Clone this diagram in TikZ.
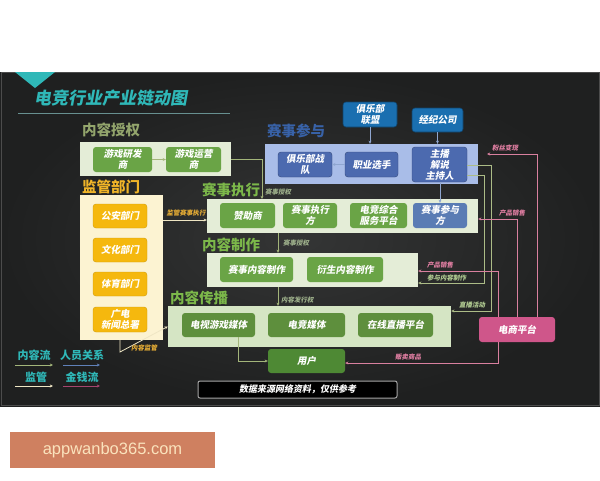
\documentclass[tikz,border=0pt]{standalone}
\usepackage{fontspec}
\usetikzlibrary{arrows.meta}
\setmainfont{Noto Sans CJK SC}
\newfontfamily\cjk{Noto Sans CJK SC}
\newfontfamily\cjksl{Noto Sans CJK SC}[FakeSlant=0.18]
\newfontfamily\wmfont{Liberation Sans}
\definecolor{panel}{HTML}{1F2020}
\definecolor{panelin}{HTML}{343535}
\definecolor{teal}{HTML}{2FB8B8}
\definecolor{lgreen}{HTML}{E4EDD7}
\definecolor{cbgreen}{HTML}{D5E5C4}
\definecolor{gbox}{HTML}{6AA446}
\definecolor{gboxd}{HTML}{5E8F3D}
\definecolor{user}{HTML}{4E8934}
\definecolor{lblue}{HTML}{A9BDE8}
\definecolor{bbox}{HTML}{4C6AAF}
\definecolor{bboxl}{HTML}{5A7CB4}
\definecolor{topblue}{HTML}{1A6FB0}
\definecolor{cream}{HTML}{FCF3D2}
\definecolor{ybox}{HTML}{F5B80E}
\definecolor{pinkbox}{HTML}{CF568A}
\definecolor{pinkline}{HTML}{D9809F}
\definecolor{pinktxt}{HTML}{E27FA3}
\definecolor{flowc}{HTML}{A3B57A}
\definecolor{flowtxt}{HTML}{9FB28C}
\definecolor{gflowtxt}{HTML}{B3CD93}
\definecolor{persc}{HTML}{8FA6D0}
\definecolor{regc}{HTML}{EFE6C4}
\definecolor{gold}{HTML}{E8AE35}
\definecolor{secolive}{HTML}{93A56C}
\definecolor{secgreen}{HTML}{7CB84A}
\definecolor{secblue}{HTML}{3862A8}
\definecolor{secyellow}{HTML}{F0B428}
\definecolor{wmfill}{HTML}{CF8060}
\definecolor{wmtext}{HTML}{FAE3BD}
\tikzset{
  container/.style={draw=none, inner sep=0pt},
  bx/.style={rounded corners=3pt, inner sep=0pt, align=center, text=white,
    font=\cjksl\bfseries\fontsize{9.5}{11}\selectfont},
  greenbx/.style={bx, fill=gbox},
  darkgreenbx/.style={bx, fill=gboxd},
  bluebx/.style={bx, fill=bbox, draw=bbox!70!black, line width=0.4pt},
  topbx/.style={bx, fill=topblue, draw=topblue!60!black, line width=0.6pt},
  yellowbx/.style={bx, fill=ybox, draw=ybox!85!black, line width=0.4pt},
  seclabel/.style={anchor=west, inner sep=0pt, font=\cjk\bfseries\fontsize{14.5}{16}\selectfont},
  small/.style={inner sep=0pt, font=\cjksl\bfseries\fontsize{6.5}{7}\selectfont},
  tip/.style={-{Stealth[length=3.2pt,width=3pt]}},
  flow/.style={tip, draw=flowc, line width=0.8pt},
  gflow/.style={tip, draw=flowc!90!white, line width=0.8pt},
  pers/.style={tip, draw=persc, line width=0.8pt},
  reg/.style={tip, draw=regc, line width=0.8pt},
  money/.style={tip, draw=pinkline, line width=0.8pt},
  legtxt/.style={inner sep=0pt, text=teal, font=\cjk\bfseries\fontsize{11}{12}\selectfont}
}
\begin{document}
\begin{tikzpicture}[x=1pt, y=-1pt]
\useasboundingbox (0,0) rectangle (600,480);
\fill[white] (0,0) rectangle (600,480);
% dark panel
\shade[inner color=panelin, outer color=panel] (0,72) rectangle (600,406);
\draw[black!70!white, line width=0.6pt] (1,72.5) rectangle (599,405.5);
\fill[teal] (15,72) -- (55,72) -- (35,88) -- cycle;
\node[anchor=west, inner sep=0pt, text=teal, font=\cjksl\bfseries\fontsize{17}{19}\selectfont] (title) at (34,98) {电竞行业产业链动图};
\draw[gray!70!teal, line width=0.7pt] (18,113) -- (230,113);

% section labels
\node[seclabel, text=secolive] (l1) at (82,130) {内容授权};
\node[seclabel, text=secblue] (l2) at (267,131) {赛事参与};
\node[seclabel, text=secyellow] (l3) at (82,187) {监管部门};
\node[seclabel, text=secgreen] (l4) at (202,190) {赛事执行};
\node[seclabel, text=secgreen] (l5) at (202,245) {内容制作};
\node[seclabel, text=secgreen] (l6) at (170,298) {内容传播};

% containers
\node[container, fill=lgreen, minimum width=151pt, minimum height=34pt] (sq) at (155.5,159) {};
\node[container, fill=lblue, minimum width=213pt, minimum height=40pt] (sc) at (371.5,164) {};
\node[container, fill=lgreen, minimum width=271pt, minimum height=34pt] (zx) at (342.5,216) {};
\node[container, fill=lgreen, minimum width=211pt, minimum height=34pt] (nz) at (312.5,270) {};
\node[container, fill=cbgreen, minimum width=283pt, minimum height=41pt] (cb) at (309.5,326.5) {};
\node[container, fill=cream, minimum width=83pt, minimum height=145pt] (jg) at (121.5,267.5) {};

% 内容授权
\node[greenbx, minimum width=59pt, minimum height=25pt] (yf) at (122.5,159.5) {游戏研发\\商};
\node[greenbx, minimum width=55pt, minimum height=25pt] (yy) at (193.5,159.5) {游戏运营\\商};

% 赛事参与
\node[bluebx, minimum width=54pt, minimum height=25pt] (jd) at (305,164.5) {俱乐部战\\队};
\node[bluebx, minimum width=53pt, minimum height=25pt] (zy) at (371.5,164.5) {职业选手};
\node[bluebx, minimum width=55pt, minimum height=35pt] (zb) at (439.5,164.5) {主播\\解说\\主持人};
\node[topbx, minimum width=54pt, minimum height=25pt] (jl) at (370,114.5) {俱乐部\\联盟};
\node[topbx, minimum width=51pt, minimum height=24pt] (jj) at (437.5,120) {经纪公司};

% 赛事执行
\node[greenbx, minimum width=55pt, minimum height=25pt] (zz) at (247.5,215.5) {赞助商};
\node[greenbx, minimum width=54pt, minimum height=25pt] (zxf) at (310,215.5) {赛事执行\\方};
\node[greenbx, minimum width=57pt, minimum height=25pt] (dj) at (378.5,215.5) {电竞综合\\服务平台};
\node[bx, fill=bboxl, minimum width=54pt, minimum height=25pt] (cyf) at (440,215.5) {赛事参与\\方};

% 内容制作
\node[greenbx, minimum width=73pt, minimum height=25pt] (ssnr) at (256.5,269.5) {赛事内容制作};
\node[greenbx, minimum width=76pt, minimum height=25pt] (ysnr) at (345,269.5) {衍生内容制作};

% 内容传播
\node[darkgreenbx, minimum width=73pt, minimum height=24pt] (ds) at (218.5,325) {电视游戏媒体};
\node[darkgreenbx, minimum width=77pt, minimum height=24pt] (djmt) at (306.5,325) {电竞媒体};
\node[darkgreenbx, minimum width=75pt, minimum height=24pt] (zbpt) at (395.5,325) {在线直播平台};
\node[bx, fill=user, minimum width=77pt, minimum height=24pt] (yh) at (306.5,361) {用户};

% 监管部门
\node[yellowbx, minimum width=54pt, minimum height=24pt] (ga) at (120,216) {公安部门};
\node[yellowbx, minimum width=54pt, minimum height=24pt] (wh) at (120,250) {文化部门};
\node[yellowbx, minimum width=54pt, minimum height=24pt] (ty) at (120,284) {体育部门};
\node[yellowbx, minimum width=54pt, minimum height=25pt] (gd) at (120,319.5) {广电\\新闻总署};

% 电商平台
\node[bx, fill=pinkbox, minimum width=76pt, minimum height=25pt] (dsp) at (517,329.5) {电商平台};

% banner
\node[rounded corners=2pt, fill=black, draw=gray!70, line width=1pt, minimum width=199pt, minimum height=17pt, inner sep=0pt, text=white, font=\cjksl\bfseries\fontsize{9}{10}\selectfont] (ban) at (297.5,389.5) {数据来源网络资料，仅供参考};

% coordinates
\coordinate (c262) at (262,199);
\coordinate (x278) at (278,0);
\coordinate (x238) at (238,0);
\coordinate (x120) at (120,0);
\coordinate (kmb) at (120,352);
\coordinate (y220) at (0,220);
\coordinate (g1t) at (484,175);
\coordinate (g1b) at (484,283);
\coordinate (g2t) at (491,165);
\coordinate (g2b) at (491,311);
\coordinate (p3t) at (537,154);
\coordinate (p3e) at (487,154);
\coordinate (p2t) at (517,219);
\coordinate (p1t) at (498,271);
\coordinate (p1b) at (498,363);

% connectors
\draw[flow] (yf.east) -- (yy.west);
\draw[flow] (sq.east |- yy.east) -| (c262);
\node[small, text=flowtxt, anchor=west] (t1) at (265,192) {赛事授权};
\draw[flow] (zx.south -| x278) -- (nz.north -| x278);
\node[small, text=flowtxt, anchor=west] (t2) at (283,243) {赛事授权};
\draw[flow] (nz.south -| x278) -- (cb.north -| x278);
\node[small, text=flowtxt, anchor=west] (t3) at (281,299.5) {内容发行权};
\draw[flow] (ds.south -| x238) |- (yh.west);

\draw[pers] (jl.south) -- (sc.north -| jl.south);
\draw[pers] (jj.south) -- (sc.north -| jj.south);
\draw[pers] (zy.west) -- (jd.east);
\draw[pers] (zb.south -| cyf.north) -- (cyf.north);

\draw[reg] (jg.east |- y220) -- (zx.west |- y220);
\node[small, text=gold] (t4) at (186,212.5) {监管赛事执行};
\draw[reg] (jg.south -| x120) -- (kmb) -- (cb.west);
\node[small, text=gold, anchor=west] (t5) at (131,348) {内容监管};

\draw[gflow] (zb.east |- g1t) -- (g1t) -- (g1b) -- (nz.east |- g1b);
\node[small, text=gflowtxt, anchor=west] (t6) at (427,277.5) {参与内容制作};
\draw[gflow] (zb.east |- g2t) -- (g2t) -- (g2b) -- (cb.east |- g2b);
\node[small, text=gflowtxt, anchor=west] (t7) at (459,305) {直播活动};

\draw[money] (dsp.north -| p3t) -- (p3t) -- (p3e);
\node[small, text=pinktxt, anchor=west] (t8) at (492,148) {粉丝变现};
\draw[money] (dsp.north -| p2t) -- (p2t) -- (zx.east |- p2t);
\node[small, text=pinktxt, anchor=west] (t9) at (499,213) {产品销售};
\draw[money] (dsp.north -| p1t) -- (p1t) -- (nz.east |- p1t);
\node[small, text=pinktxt, anchor=west] (t10) at (427,265) {产品销售};
\draw[money] (dsp.south -| p1b) -- (p1b) -- (yh.east |- p1b);
\node[small, text=pinktxt, anchor=west] (t11) at (395,357.5) {贩卖商品};

% legend
\node[legtxt] (lg1) at (34,355) {内容流};
\node[legtxt] (lg2) at (82,355) {人员关系};
\node[legtxt] (lg3) at (36,377) {监管};
\node[legtxt] (lg4) at (82,377) {金钱流};
\coordinate (a1s) at (15,365); \coordinate (a1e) at (53,365);
\coordinate (a2s) at (63,365); \coordinate (a2e) at (100,365);
\coordinate (a3s) at (15,386); \coordinate (a3e) at (53,386);
\coordinate (a4s) at (63,386); \coordinate (a4e) at (100,386);
\draw[tip, draw=flowc, line width=1pt] (a1s) -- (a1e);
\draw[tip, draw=secblue!80!white, line width=1pt] (a2s) -- (a2e);
\draw[tip, draw=regc, line width=1pt] (a3s) -- (a3e);
\draw[tip, draw=pinkbox!80!black, line width=1pt] (a4s) -- (a4e);

% watermark
\node[fill=wmfill, minimum width=205pt, minimum height=36pt, inner sep=0pt, text=wmtext, font=\wmfont\fontsize{16.5}{18}\selectfont] (wm) at (112.5,450) {appwanbo365.com};
\end{tikzpicture}
\end{document}
